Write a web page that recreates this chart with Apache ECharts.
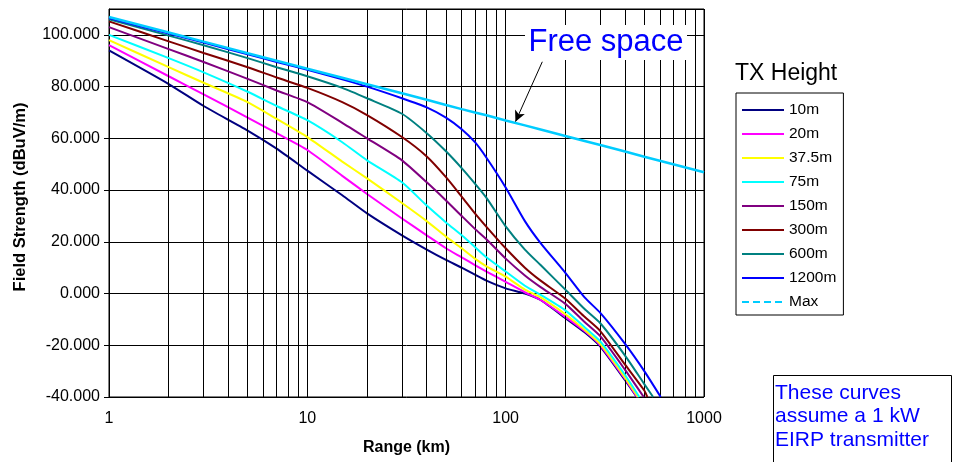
<!DOCTYPE html>
<html>
<head>
<meta charset="utf-8">
<script src="https://cdn.jsdelivr.net/npm/echarts@6/dist/echarts.min.js"></script>
<style>
html,body{margin:0;padding:0;background:#fff;}
#chart{width:957px;height:462px;}
</style>
</head>
<body>
<div id="chart"></div>
<script>
// ---- data ----
const rangeKm = [1, 2, 3, 5, 7, 10, 15, 20, 30, 40, 50, 60, 70, 80, 100, 125, 150, 200, 250, 300, 400, 500];
const seriesNames = ['10m', '20m', '37.5m', '75m', '150m', '300m', '600m', '1200m', 'Max'];
const h10m   = [94.0, 81.0, 72.5, 63.0, 56.0, 47.5, 38.0, 31.0, 22.5, 17.0, 13.0, 10.0, 7.3, 5.0, 2.0, 0.0, -2.5, -9.5, -15.0, -20.5, -33.5, null];
const h20m   = [96.0, 84.0, 77.0, 68.0, 62.0, 55.5, 45.5, 38.5, 29.0, 22.5, 17.5, 14.0, 11.0, 8.5, 4.5, 0.5, -2.5, -9.0, -14.5, -20.0, -33.0, null];
const h37m   = [98.0, 87.5, 81.5, 74.0, 67.5, 60.5, 51.0, 44.5, 35.0, 28.0, 22.0, 17.5, 13.5, 10.5, 6.5, 1.5, -1.5, -8.0, -14.0, -19.5, -32.5, null];
const h75m   = [100.0, 91.0, 85.5, 78.0, 72.5, 67.0, 58.5, 51.5, 43.0, 34.0, 27.5, 22.5, 18.0, 14.0, 8.5, 3.0, -0.5, -6.5, -13.0, -18.5, -31.5, null];
const h150m  = [103.0, 94.5, 89.5, 83.0, 78.5, 74.0, 66.0, 60.0, 51.5, 43.0, 36.0, 30.0, 25.0, 21.0, 13.5, 7.0, 2.5, -4.0, -11.0, -16.5, -29.5, null];
const h300m  = [105.2, 97.5, 93.0, 87.5, 83.5, 79.5, 74.0, 69.0, 60.5, 53.0, 45.0, 37.5, 31.0, 25.8, 17.5, 10.0, 5.0, -2.0, -9.0, -14.5, -27.5, -37.5];
const h600m  = [106.0, 99.7, 96.0, 91.0, 87.5, 84.0, 79.5, 75.5, 69.5, 62.0, 55.0, 48.5, 42.5, 37.0, 26.0, 17.0, 11.0, 1.5, -6.0, -11.5, -24.0, -35.0];
const h1200m = [106.5, 100.5, 97.0, 92.5, 89.5, 86.5, 82.8, 80.0, 75.5, 72.0, 68.0, 63.5, 58.5, 52.5, 41.0, 28.0, 19.5, 8.0, -1.5, -7.5, -19.5, -30.0];
const freeSpace = [106.9, 100.9, 97.4, 92.9, 90.0, 86.9, 83.4, 80.9, 77.4, 74.9, 72.9, 71.3, 70.0, 68.9, 66.9, 65.0, 63.4, 60.9, 59.0, 57.4, 54.9, 52.9];
// where each curve leaves the plot (km, dBuV/m)
const endKm  = [458, 460, 465, 472, 497, 518, 554, 605, 1000];
const endVal = [-40, -40, -40, -40, -40, -40, -40, -40, 46.9];
const colors = ['#000080', '#ff00ff', '#ffff00', '#00ffff', '#800080', '#800000', '#008080', '#0000ff', '#00ccff'];
const yTicks = { min: -40, max: 110, interval: 20 };
const minorGridKm = [2, 3, 4, 5, 6, 7, 8, 9, 20, 30, 40, 50, 60, 70, 80, 90, 200, 300, 400, 500, 600, 700, 800, 900];
const arrowFrom = [153, 89.6];
const arrowTo = [112, 66.4];

const allValues = [h10m, h20m, h37m, h75m, h150m, h300m, h600m, h1200m, freeSpace];
const FONT = 'Liberation Sans, Arial, sans-serif';

function buildData(vals, i) {
  const d = [];
  rangeKm.forEach((k, j) => { if (vals[j] !== null) d.push([k, vals[j]]); });
  d.push([endKm[i], endVal[i]]);
  return d;
}

const series = [{
  name: '_grid', type: 'line', data: [], z: 1, silent: true,
  markLine: {
    silent: true, animation: false, symbol: ['none', 'none'],
    label: { show: false },
    lineStyle: { color: '#000', width: 1, type: 'solid' },
    emphasis: { disabled: true },
    data: minorGridKm.map(v => ({ xAxis: v }))
  }
}];
seriesNames.forEach((n, i) => {
  const s = {
    name: n, type: 'line', data: buildData(allValues[i], i),
    symbol: 'none', smooth: n === 'Max' ? false : 0.2, z: 3 + i,
    lineStyle: { color: colors[i], width: n === 'Max' ? 2.5 : 2 },
    itemStyle: { color: colors[i] },
    emphasis: { disabled: true }
  };
  if (n === 'Max') {
    s.markLine = {
      silent: true, animation: false,
      label: { show: false },
      lineStyle: { color: '#000', width: 1, type: 'solid' },
      symbolSize: [8, 11],
      emphasis: { disabled: true },
      data: [[{ coord: arrowFrom, symbol: 'none' }, { coord: arrowTo, symbol: 'arrow' }]]
    };
  }
  series.push(s);
});

const chart = echarts.init(document.getElementById('chart'), null, { renderer: 'canvas' });
chart.setOption({
  animation: false,
  backgroundColor: '#fff',
  grid: { left: 109, right: 253, top: 9, bottom: 65, show: true, borderColor: '#000', borderWidth: 1 },
  xAxis: {
    type: 'log', logBase: 10, min: 1, max: 1000,
    name: 'Range (km)', nameLocation: 'middle', nameGap: 43,
    nameTextStyle: { fontFamily: FONT, fontWeight: 'bold', fontSize: 16, color: '#000' },
    axisLine: { lineStyle: { color: '#000', width: 1 } },
    axisTick: { show: true, length: 5, lineStyle: { color: '#000' } },
    axisLabel: { color: '#000', fontFamily: FONT, fontSize: 16, margin: 14, formatter: v => String(v) },
    splitLine: { show: true, lineStyle: { color: '#000', width: 1 } },
    minorTick: { show: false }
  },
  yAxis: {
    type: 'value', min: yTicks.min, max: yTicks.max, interval: yTicks.interval,
    name: 'Field Strength (dBuV/m)', nameLocation: 'middle', nameGap: 80, nameRotate: 90,
    nameTextStyle: { fontFamily: FONT, fontWeight: 'bold', fontSize: 16.5, color: '#000', padding: [0, 0, 0, 12] },
    axisLine: { show: true, lineStyle: { color: '#000', width: 1 } },
    axisTick: { show: true, length: 5, lineStyle: { color: '#000' } },
    axisLabel: { color: '#000', fontFamily: FONT, fontSize: 16, margin: 9, showMaxLabel: false,
      formatter: v => v.toFixed(3) },
    splitLine: { show: true, lineStyle: { color: '#000', width: 1 } }
  },
  title: {
    text: 'TX Height', left: 735, top: 62, padding: 0,
    textStyle: { fontFamily: FONT, fontWeight: 'normal', fontSize: 23, color: '#000' }
  },
  legend: {
    orient: 'vertical', left: 736, top: 93,
    itemWidth: 42, itemHeight: 14, itemGap: 8,
    padding: [9, 7, 5, 5],
    borderColor: '#000', borderWidth: 1, backgroundColor: '#fff',
    selectedMode: false,
    itemStyle: { opacity: 0 },
    textStyle: { fontFamily: FONT, fontSize: 15.5, color: '#000' },
    data: seriesNames.map(n => n === 'Max' ? { name: n, lineStyle: { type: [7, 4] } } : { name: n })
  },
  graphic: [
    { type: 'rect', shape: { x: 525, y: 25, width: 162, height: 35 }, style: { fill: '#fff' }, z: 50 },
    { type: 'text', x: 606, y: 42, z: 51,
      style: { text: 'Free space', fill: '#0000ff', font: '31px ' + FONT, textAlign: 'center', textVerticalAlign: 'middle' } },
    { type: 'rect', shape: { x: 773.5, y: 375.5, width: 178, height: 100 }, style: { fill: '#fff', stroke: '#000', lineWidth: 1 }, z: 50 },
    { type: 'text', x: 775, y: 381, z: 51,
      style: { text: 'These curves\nassume a 1 kW\nEIRP transmitter', fill: '#0000ff', font: '21px ' + FONT, lineHeight: 23.5, textAlign: 'left', textVerticalAlign: 'top' } }
  ],
  series: series
});
</script>
</body>
</html>
